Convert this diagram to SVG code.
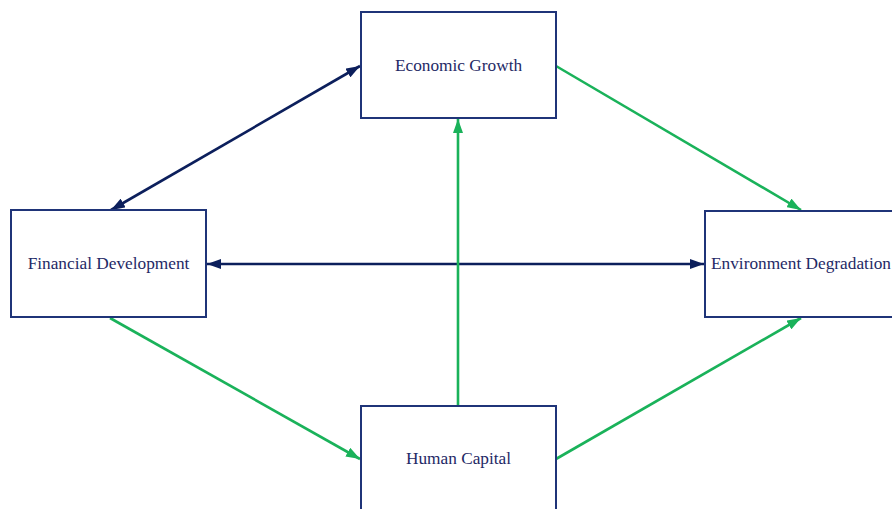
<svg xmlns="http://www.w3.org/2000/svg" width="892" height="509" viewBox="0 0 892 509">
<style>
.box{fill:#fff;stroke:#1f3478;stroke-width:2}
text{font-family:'Liberation Serif','Times New Roman','DejaVu Serif',serif;font-size:17.3px;fill:#1f2a66}
.nv{stroke:#0c1f5c;stroke-width:2.6;fill:none}
.gr{stroke:#1ab25a;stroke-width:2.6;fill:none}
</style>
<defs>
<marker id="an" viewBox="0 0 14 10" refX="14" refY="5" markerWidth="14" markerHeight="10" markerUnits="userSpaceOnUse" orient="auto-start-reverse"><path d="M0,0L14,5L0,10z" fill="#0c1f5c"/></marker>
<marker id="ag" viewBox="0 0 14 10" refX="14" refY="5" markerWidth="14" markerHeight="10" markerUnits="userSpaceOnUse" orient="auto"><path d="M0,0L14,5L0,10z" fill="#1ab25a"/></marker>
</defs>
<rect width="892" height="509" fill="#fff"/>
<g id="connectors">
<line class="nv" x1="111" y1="210" x2="360" y2="66" marker-start="url(#an)" marker-end="url(#an)"/>
<line class="nv" x1="207" y1="264" x2="704" y2="264" marker-start="url(#an)" marker-end="url(#an)"/>
<line class="gr" x1="556" y1="66" x2="801" y2="210" marker-end="url(#ag)"/>
<line class="gr" x1="110" y1="318" x2="360" y2="459" marker-end="url(#ag)"/>
<line class="gr" x1="458" y1="406" x2="458" y2="119" marker-end="url(#ag)"/>
<line class="gr" x1="556" y1="459" x2="801" y2="318" marker-end="url(#ag)"/>
</g>
<g id="economic-growth">
<rect class="box" x="361" y="12" width="195" height="106"/>
<text x="458.5" y="71" text-anchor="middle" font-family="Liberation Serif, serif">Economic Growth</text>
</g>
<g id="financial-development">
<rect class="box" x="11" y="210" width="195" height="107"/>
<text x="108.5" y="269" text-anchor="middle" font-family="Liberation Serif, serif">Financial Development</text>
</g>
<g id="environment-degradation">
<rect class="box" x="705" y="211" width="200" height="106"/>
<text x="711" y="269" font-family="Liberation Serif, serif">Environment Degradation</text>
</g>
<g id="human-capital">
<rect class="box" x="361" y="406" width="195" height="120"/>
<text x="458.5" y="464" text-anchor="middle" font-family="Liberation Serif, serif">Human Capital</text>
</g>
</svg>
